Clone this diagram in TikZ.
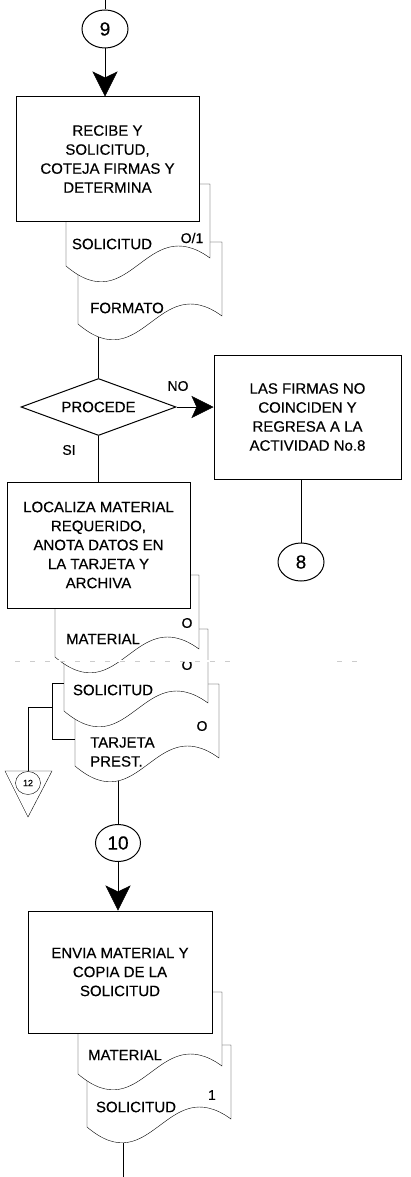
\documentclass[tikz,border=0pt]{standalone}
\usepackage{fontspec}
\setmainfont{Liberation Sans}[FakeBold=0.4]
\usetikzlibrary{shapes.geometric,arrows.meta}
\pgfdeclarelayer{lines}
\pgfdeclarelayer{docs}
\pgfsetlayers{lines,docs,main}
% document shape: #1 = x left, #2 = y top
\newcommand\mydoc[2]{%
  \draw[docshape] (#1,#2) -- (#1+144,#2) -- (#1+144,#2+74)
    .. controls (#1+79.2,#2+27) and (#1+64.8,#2+137) .. (#1,#2+82) -- cycle;}
\begin{document}
\begin{tikzpicture}[x=1pt,y=-1pt,line width=1pt,
  proc/.style={draw,fill=white,align=center,font=\fontsize{15}{19}\selectfont,inner sep=0pt},
  conn/.style={draw,fill=white,ellipse,minimum width=46pt,minimum height=38pt,inner sep=0pt,font=\fontsize{19}{19}\selectfont},
  lbl/.style={font=\fontsize{15}{19}\selectfont,inner sep=0pt},
  sml/.style={font=\fontsize{14}{14}\selectfont,inner sep=0pt},
  arr/.style={-{Stealth[length=25pt,width=25pt,inset=6pt]}},
  arrs/.style={-{Stealth[length=22pt,width=22pt,inset=5pt]}},
  docshape/.style={draw,fill=white,line join=miter},
  scan/.style={gray!40,line width=0.7pt,dash pattern=on 5pt off 10pt}
]
\useasboundingbox (0,0) rectangle (411,1177);

% process boxes
\node[proc,minimum width=183pt,minimum height=124pt] (b1) at (107.5,159) {RECIBE Y\\SOLICITUD,\\COTEJA FIRMAS Y\\DETERMINA};
\node[proc,minimum width=187pt,minimum height=124pt] (b2) at (307.5,417) {LAS FIRMAS NO\\COINCIDEN Y\\REGRESA A LA\\ACTIVIDAD No.8};
\node[proc,minimum width=183pt,minimum height=126pt] (b3) at (98.5,545) {LOCALIZA MATERIAL\\REQUERIDO,\\ANOTA DATOS EN\\LA TARJETA Y\\ARCHIVA};
\node[proc,minimum width=184pt,minimum height=122pt] (b4) at (120,972) {ENVIA MATERIAL Y\\COPIA DE LA\\SOLICITUD};

% connectors (circles)
\node[conn] (c9) at (105,29) {9};
\node[conn] (c8) at (301,562) {8};
\node[conn,minimum width=45pt,minimum height=37pt] (c10) at (118,843) {10};

% decision
\node[draw,fill=white,diamond,aspect=2.7,minimum width=155pt,minimum height=57pt,inner sep=0pt,font=\fontsize{15}{15}\selectfont] (dia) at (98.5,407) {PROCEDE};

% coordinates
\coordinate (top) at (105,0);
\coordinate (d2in) at (96,300);
\coordinate (d5in) at (118,740);
\coordinate (d7in) at (123,1100);
\coordinate (bot) at (123,1177);
\coordinate (br1) at (64,683);
\coordinate (br2) at (75,739);
\coordinate (br3) at (52,707);
\coordinate (tri) at (28,771);

\begin{pgfonlayer}{lines}
  \draw (top) -- (c9.north);
  \draw (dia.north) -- (dia.north |- d2in);
  \draw (dia.south) -- (dia.south |- b3.north);
  \draw (c8.north) -- (c8.north |- b2.south);
  \draw (c10.north) -- (c10.north |- d5in);
  \draw (d7in) -- (bot);
  \draw (br1) -- ++(-12,0) |- (br2);
  \draw (br3) -| (tri);
\end{pgfonlayer}

\begin{pgfonlayer}{docs}
  \mydoc{78}{242}
  \mydoc{66}{184}
  \mydoc{75}{684}
  \mydoc{64}{629}
  \mydoc{55}{575}
  \mydoc{87}{1045}
  \mydoc{78}{992}
\end{pgfonlayer}

% arrows
\draw[arr] (c9.south) -- (c9.south |- b1.north);
\draw[arrs] (dia.east) -- (dia.east -| b2.west);
\draw[arr] (c10.south) -- (c10.south |- b4.north);

% off-page connector
\draw (tri) -- (5,771) -- (28,817) -- (52,771) -- cycle;
\node[draw,fill=white,ellipse,minimum width=25pt,minimum height=23pt,inner sep=0pt,font=\fontsize{9}{9}\selectfont] (c12) at (28,783) {12};

% labels
\node[sml] (no) at (178,386) {NO};
\node[sml] (si) at (69,450) {SI};
\node[lbl] (t1) at (112,244) {SOLICITUD};
\node[sml] (t1n) at (192,238) {O/1};
\node[lbl] (t2) at (127,308) {FORMATO};
\node[lbl] (t3) at (103,639) {MATERIAL};
\node[sml] (t3n) at (187,623) {O};
\node[lbl] (t4) at (113,690) {SOLICITUD};
\node[sml] (t4n) at (187,665) {O};
\node[lbl,align=left,anchor=west] (t5) at (90,752) {TARJETA\\PREST.};
\node[sml] (t5n) at (202,726) {O};
\node[lbl] (t6) at (125,1055) {MATERIAL};
\node[lbl] (t7) at (136,1107) {SOLICITUD};
\node[sml] (t7n) at (212,1095) {1};

% scan artefact
\draw[white,line width=1.4pt] (15,661) -- (237,661);
\draw[scan] (15,661) -- (237,661);
\draw[scan] (337,661) -- (362,661);
\end{tikzpicture}
\end{document}
